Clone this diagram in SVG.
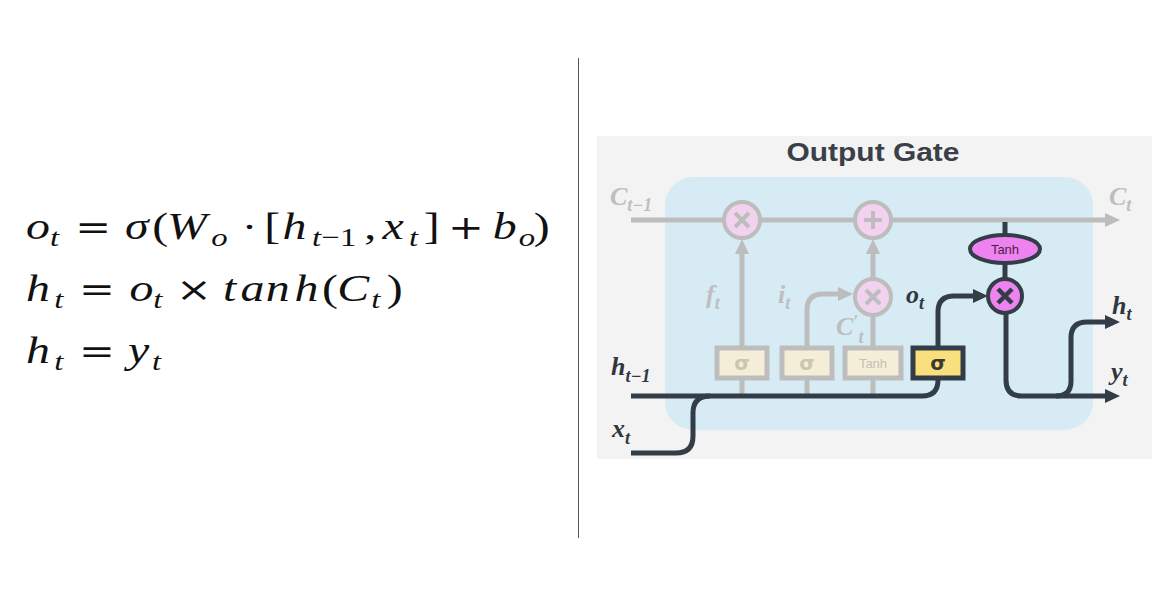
<svg xmlns="http://www.w3.org/2000/svg" width="1165" height="595" viewBox="0 0 1165 595">
<style>
.eq{font-family:"Liberation Serif","DejaVu Serif",serif;font-size:38px;fill:#111;}
.eq .i{font-style:italic;}
.eq .s{font-style:italic;font-size:26px;}
.eq .sn{font-size:26px;}
.eq .op{font-family:"DejaVu Serif","Liberation Serif",serif;font-size:34px;}
.lbl{font-family:"Liberation Serif","DejaVu Serif",serif;font-weight:bold;font-style:italic;font-size:26px;}
.lbl .s{font-size:18px;}
.fade{fill:#bebebe;}
.dark{fill:#2f3640;}
.gl{fill:none;stroke:#bdbdbd;stroke-width:5;}
.dl{fill:none;stroke:#333d47;stroke-width:5;}
.fbox{fill:#f4eed8;stroke:#bdbdbd;stroke-width:5;}
.dbox{fill:#f8e07e;stroke:#333d47;stroke-width:5;}
.fcirc{fill:#f2d2ef;stroke:#bdbdbd;stroke-width:4;}
.dcirc{fill:#ee82ee;stroke:#333d47;stroke-width:4;}
.fsym{stroke:#bdbdbd;stroke-width:4;}
.dsym{stroke:#333d47;stroke-width:4.5;}
.sig{font-family:"DejaVu Sans","Liberation Sans",sans-serif;font-weight:bold;font-size:20px;text-anchor:middle;}
.tanh{font-family:"Liberation Sans",Arial,sans-serif;font-size:13px;text-anchor:middle;}
</style>
<defs>
<marker id="ag" markerWidth="16" markerHeight="16" refX="4" refY="8" orient="auto" markerUnits="userSpaceOnUse"><path d="M0,1 L15,8 L0,15 z" fill="#bdbdbd"/></marker>
<marker id="ad" markerWidth="16" markerHeight="16" refX="4" refY="8" orient="auto" markerUnits="userSpaceOnUse"><path d="M0,1 L15,8 L0,15 z" fill="#333d47"/></marker>
</defs>
<rect width="1165" height="595" fill="#ffffff"/>

<g id="equations">
<text class="eq" transform="translate(26,239) scale(1.26,1)"><tspan class="i" x="0" y="0">o</tspan><tspan class="s" x="19" y="7">t</tspan><tspan class="op" x="39" y="0">=</tspan><tspan class="i" x="78.6" y="0">σ</tspan><tspan x="100.3" y="0">(</tspan><tspan class="i" x="112" y="0">W</tspan><tspan class="s" x="147" y="7">o</tspan><tspan class="op" x="172" y="0">·</tspan><tspan x="189" y="0">[</tspan><tspan class="i" x="203.5" y="0">h</tspan><tspan class="s" x="227" y="7">t</tspan><tspan class="sn" x="234.5" y="7">−1</tspan><tspan x="268.5" y="0">,</tspan><tspan class="i" x="283" y="0">x</tspan><tspan class="s" x="304" y="7">t</tspan><tspan x="315.6" y="0">]</tspan><tspan class="op" x="335" y="0">+</tspan><tspan class="i" x="370.5" y="0">b</tspan><tspan class="s" x="391" y="7">o</tspan><tspan x="403" y="0">)</tspan></text>
<text class="eq" transform="translate(26,301) scale(1.26,1)"><tspan class="i" x="0" y="0">h</tspan><tspan class="s" x="22.5" y="7">t</tspan><tspan class="op" x="42" y="0">=</tspan><tspan class="i" x="82.1" y="0">o</tspan><tspan class="s" x="101" y="7">t</tspan><tspan class="op" x="119" y="0">×</tspan><tspan class="i" x="156.4 170.2 190.3 213.1" y="0">tanh</tspan><tspan x="235" y="0">(</tspan><tspan class="i" x="247" y="0">C</tspan><tspan class="s" x="274" y="7">t</tspan><tspan x="286.4" y="0">)</tspan></text>
<text class="eq" transform="translate(26,363) scale(1.26,1)"><tspan class="i" x="0" y="0">h</tspan><tspan class="s" x="22.5" y="7">t</tspan><tspan class="op" x="42" y="0">=</tspan><tspan class="i" x="81" y="0">y</tspan><tspan class="s" x="100" y="7">t</tspan></text>
</g>

<line x1="578.5" y1="58" x2="578.5" y2="538" stroke="#555" stroke-width="1"/>

<g id="panel">
<rect x="597" y="136" width="555" height="323" fill="#f3f3f3"/>
<rect x="665" y="177" width="428" height="253" rx="28" fill="#d6ebf4"/>
<text x="873" y="161" font-family="Liberation Sans,Arial,sans-serif" font-weight="bold" font-size="25" fill="#3a4048" text-anchor="middle" textLength="173" lengthAdjust="spacingAndGlyphs">Output Gate</text>
</g>

<g id="connectors">
<path class="gl" d="M631,220 H1109" marker-end="url(#ag)"/>
<path class="gl" d="M742,396 V250" marker-end="url(#ag)"/>
<path class="gl" d="M807,396 V310 Q807,294 823,294 H842" marker-end="url(#ag)"/>
<path class="gl" d="M873,396 V315"/>
<path class="gl" d="M873,279 V250" marker-end="url(#ag)"/>
<path class="dl" d="M631,396 H922 Q938,396 938,380"/>
<path class="dl" d="M631,453 H676 Q693,453 693,436 V413 Q693,396 710,396"/>
<path class="dl" d="M938,347 V312 Q938,296 954,296 H977" marker-end="url(#ad)"/>
<path class="dl" d="M1005,222 V235"/>
<path class="dl" d="M1005,263 V279"/>
<path class="dl" d="M1006,313 V380 Q1006,396 1022,396 H1109" marker-end="url(#ad)"/>
<path class="dl" d="M1056,396 Q1071,396 1071,381 V338 Q1071,322 1087,322 H1109" marker-end="url(#ad)"/>
</g>

<g id="forget-mul">
<circle class="fcirc" cx="742" cy="220" r="18"/>
<path class="fsym" d="M735,213 L749,227 M749,213 L735,227"/>
</g>
<g id="cell-add">
<circle class="fcirc" cx="873" cy="220" r="18"/>
<path class="fsym" d="M873,211 V229 M864,220 H882"/>
</g>
<g id="input-mul">
<circle class="fcirc" cx="873" cy="297" r="18"/>
<path class="fsym" d="M866,290 L880,304 M880,290 L866,304"/>
</g>
<g id="forget-sigma">
<rect class="fbox" x="717" y="348" width="50" height="30"/>
<text class="sig" x="742" y="370" fill="#cdc5b2">σ</text>
</g>
<g id="input-sigma">
<rect class="fbox" x="782" y="348" width="50" height="30"/>
<text class="sig" x="807" y="370" fill="#cdc5b2">σ</text>
</g>
<g id="cand-tanh">
<rect class="fbox" x="845" y="348" width="56" height="30"/>
<text class="tanh" x="873" y="368" fill="#c4c0b6">Tanh</text>
</g>
<g id="output-sigma">
<rect class="dbox" x="913" y="348" width="50" height="30"/>
<text class="sig" x="938" y="370" fill="#3a3a30">σ</text>
</g>
<g id="out-tanh">
<ellipse class="dcirc" cx="1005" cy="249" rx="35" ry="14"/>
<text class="tanh" x="1005" y="254" fill="#4a1f4a">Tanh</text>
</g>
<g id="output-mul">
<circle class="dcirc" cx="1005" cy="296" r="17"/>
<path class="dsym" d="M998,289 L1012,303 M1012,289 L998,303"/>
</g>

<g id="labels">
<text class="lbl fade" x="610" y="205">C<tspan class="s" dy="6">t−1</tspan></text>
<text class="lbl fade" x="1109" y="205">C<tspan class="s" dy="6">t</tspan></text>
<text class="lbl fade" x="706" y="303">f<tspan class="s" dy="6">t</tspan></text>
<text class="lbl fade" x="778" y="303">i<tspan class="s" dy="6">t</tspan></text>
<text class="lbl fade" x="836" y="335">C<tspan class="s" dy="-7">′</tspan><tspan class="s" dy="15">t</tspan></text>
<text class="lbl dark" x="906" y="303">o<tspan class="s" dy="6">t</tspan></text>
<text class="lbl dark" x="611" y="375">h<tspan class="s" dy="7">t−1</tspan></text>
<text class="lbl dark" x="612" y="437">x<tspan class="s" dy="7">t</tspan></text>
<text class="lbl dark" x="1112" y="314">h<tspan class="s" dy="6">t</tspan></text>
<text class="lbl dark" x="1111" y="380">y<tspan class="s" dy="6">t</tspan></text>
</g>
</svg>
